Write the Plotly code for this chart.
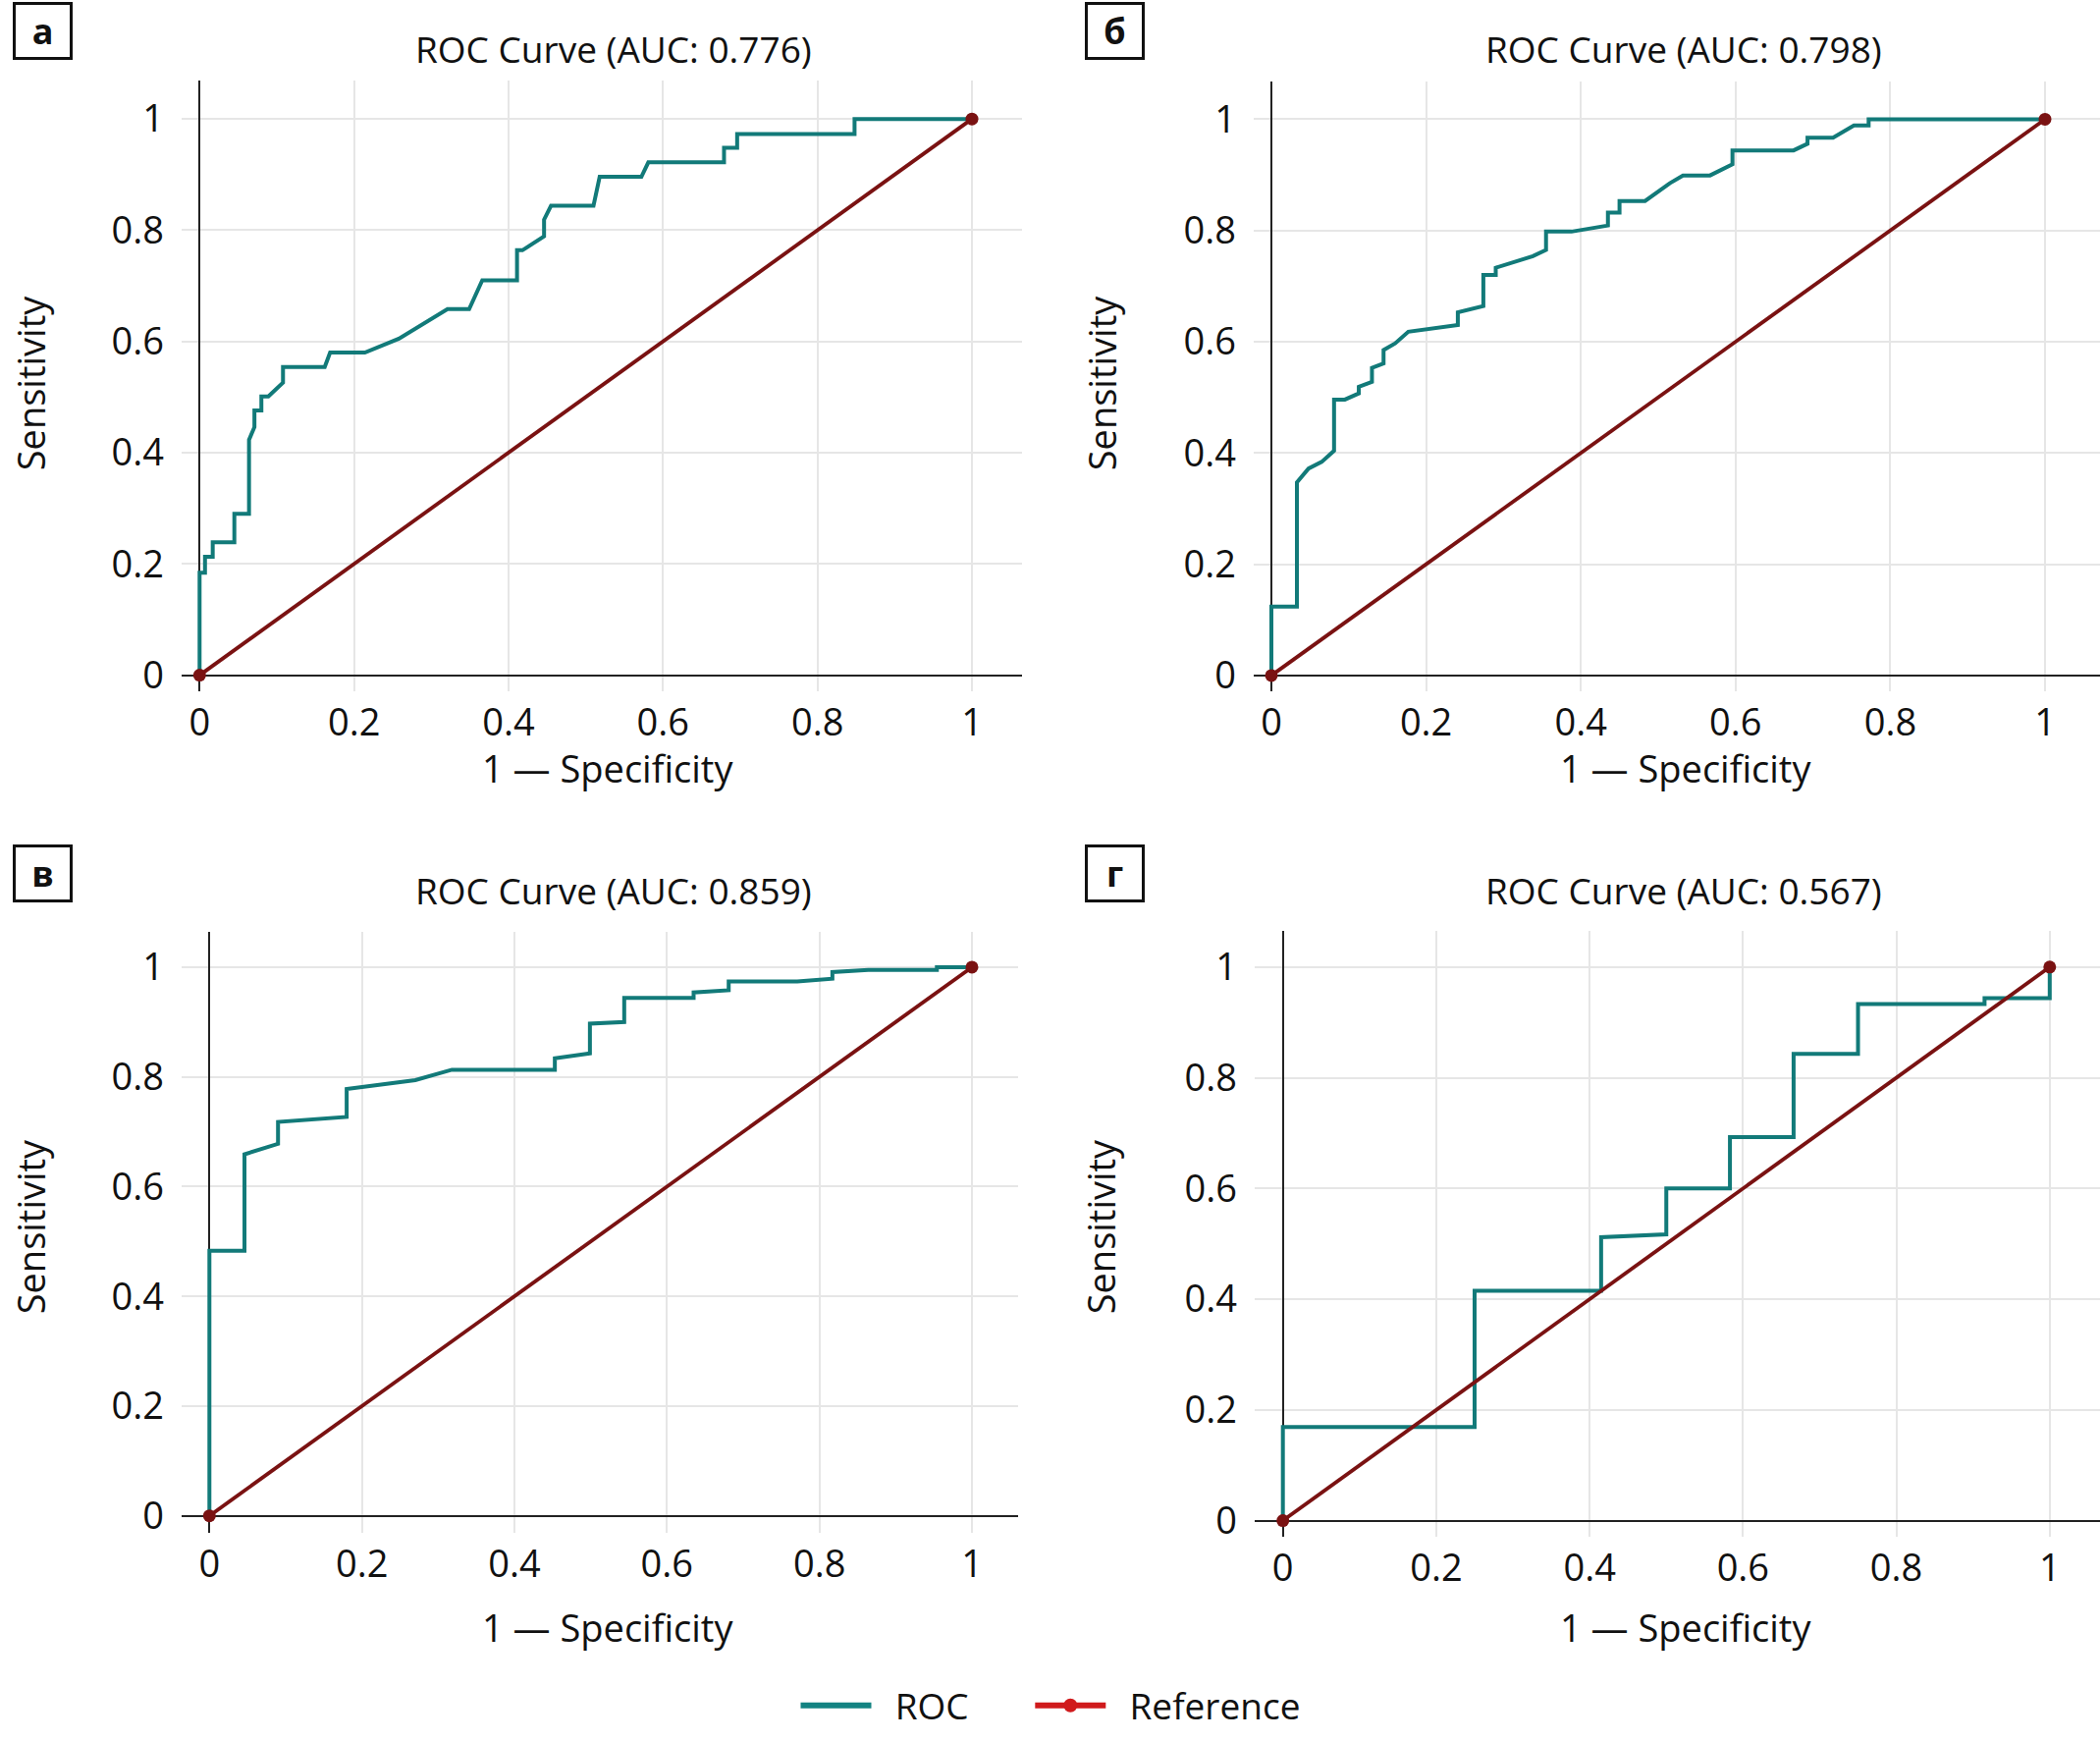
import plotly.graph_objects as go

W, H = 2139, 1773

# ROC curves (1 - specificity, sensitivity)
roc_x_a = [0, 0, 0.007, 0.007, 0.017, 0.017, 0.045, 0.045, 0.064, 0.064, 0.071, 0.071, 0.08, 0.08,
           0.089, 0.108, 0.108, 0.162, 0.169, 0.214, 0.258, 0.321, 0.349, 0.366, 0.411, 0.411, 0.418,
           0.446, 0.446, 0.455, 0.51, 0.518, 0.572, 0.581, 0.679, 0.679, 0.696, 0.696, 0.848, 0.848, 1.0]
roc_y_a = [0, 0.184, 0.184, 0.213, 0.213, 0.239, 0.239, 0.29, 0.29, 0.423, 0.446, 0.476, 0.476, 0.501,
           0.501, 0.526, 0.554, 0.554, 0.58, 0.58, 0.605, 0.658, 0.658, 0.71, 0.71, 0.764, 0.764,
           0.789, 0.819, 0.844, 0.844, 0.896, 0.896, 0.922, 0.922, 0.948, 0.948, 0.973, 0.973, 1.0, 1.0]

roc_x_b = [0, 0, 0.033, 0.033, 0.048, 0.065, 0.081, 0.081, 0.095, 0.113, 0.113, 0.13, 0.13, 0.145,
           0.145, 0.16, 0.177, 0.241, 0.241, 0.274, 0.274, 0.29, 0.29, 0.338, 0.355, 0.355, 0.388,
           0.435, 0.435, 0.45, 0.45, 0.483, 0.515, 0.532, 0.567, 0.596, 0.596, 0.675, 0.693, 0.693,
           0.726, 0.753, 0.772, 0.772, 1.0]
roc_y_b = [0, 0.124, 0.124, 0.347, 0.372, 0.384, 0.404, 0.496, 0.496, 0.507, 0.519, 0.528, 0.553, 0.561,
           0.585, 0.597, 0.618, 0.63, 0.653, 0.664, 0.72, 0.72, 0.733, 0.754, 0.765, 0.798, 0.798,
           0.809, 0.832, 0.832, 0.853, 0.853, 0.885, 0.899, 0.899, 0.919, 0.944, 0.944, 0.956, 0.967,
           0.967, 0.989, 0.989, 1.0, 1.0]

roc_x_c = [0, 0, 0.046, 0.046, 0.09, 0.09, 0.18, 0.18, 0.27, 0.318, 0.453, 0.453, 0.499, 0.499, 0.544,
           0.544, 0.635, 0.635, 0.681, 0.681, 0.771, 0.817, 0.817, 0.864, 0.954, 0.954, 1.0]
roc_y_c = [0, 0.483, 0.483, 0.659, 0.678, 0.718, 0.727, 0.778, 0.794, 0.813, 0.813, 0.834, 0.843, 0.897,
           0.9, 0.944, 0.944, 0.954, 0.958, 0.974, 0.974, 0.979, 0.991, 0.995, 0.995, 1.0, 1.0]

roc_x_d = [0, 0, 0.25, 0.25, 0.415, 0.415, 0.5, 0.5, 0.583, 0.583, 0.666, 0.666, 0.75, 0.75,
           0.915, 0.915, 1.0, 1.0]
roc_y_d = [0, 0.169, 0.169, 0.415, 0.415, 0.512, 0.517, 0.6, 0.6, 0.693, 0.693, 0.843, 0.843, 0.933,
           0.933, 0.944, 0.944, 1.0]

ref_x = [0, 1]
ref_y = [0, 1]

panel_labels = ["а", "б", "в", "г"]
auc_values = ["0.776", "0.798", "0.859", "0.567"]
tick_vals = [0, 0.2, 0.4, 0.6, 0.8, 1]
tick_text = ["0", "0.2", "0.4", "0.6", "0.8", "1"]

curves = [(roc_x_a, roc_y_a), (roc_x_b, roc_y_b), (roc_x_c, roc_y_c), (roc_x_d, roc_y_d)]

# pixel geometry of each panel: x=0, x=1, left, right, y=1, y=0, top, bottom
geom = [
    (203.3, 990.0, 185, 1041, 121.7, 690.7, 82.7, 707),
    (1295.0, 2083.0, 1277, 2139, 122.0, 691.0, 83.0, 707),
    (213.3, 990.0, 185, 1037, 989.4, 1550.7, 953.0, 1568),
    (1306.7, 2087.8, 1278, 2139, 989.3, 1555.6, 952.3, 1572),
]
title_pos = [(625, 50), (1715, 50), (625, 911), (1715, 911)]
xtitle_pos = [(619, 786), (1717, 786), (619, 1665), (1717, 1665)]
ytitle_pos = [(31, 392), (1122, 392), (31, 1255), (1121, 1255)]
label_pos = [(43.5, 31.5), (1135, 31.5), (43.5, 894), (1135, 893.5)]

FONT = "Open Sans"
TEAL = "#127a79"
MAROON = "#7a1212"
NB = "\u00a0"

fig = go.Figure()
annotations = []

for i, ((cx, cy), g) in enumerate(zip(curves, geom)):
    x0, x1, left, right, y1, y0, top, bottom = g
    sfx = "" if i == 0 else str(i + 1)
    xr = [(left - x0) / (x1 - x0), (right - x0) / (x1 - x0)]
    yr = [(y0 - bottom) / (y0 - y1), (y0 - top) / (y0 - y1)]
    axis_common = dict(
        showgrid=True, gridcolor="#e6e6e6", gridwidth=2,
        zeroline=True, zerolinecolor="#222222", zerolinewidth=2,
        showline=False, ticks="", tickvals=tick_vals, ticktext=tick_text,
        tickfont=dict(family=FONT, size=38, color="#111111"), fixedrange=True,
    )
    fig.layout["xaxis" + sfx] = dict(axis_common, range=xr, domain=[left / W, min(right / W, 1)],
                                     anchor="y" + sfx, ticklabelstandoff=6)
    fig.layout["yaxis" + sfx] = dict(axis_common, range=yr, domain=[1 - bottom / H, 1 - top / H],
                                     anchor="x" + sfx, ticklabelstandoff=17)

    fig.add_trace(go.Scatter(x=cx, y=cy, mode="lines", line=dict(color=TEAL, width=4),
                             xaxis="x" + sfx, yaxis="y" + sfx, showlegend=False))
    fig.add_trace(go.Scatter(x=ref_x, y=ref_y, mode="lines+markers",
                             line=dict(color=MAROON, width=3.8), marker=dict(color=MAROON, size=13),
                             cliponaxis=False, xaxis="x" + sfx, yaxis="y" + sfx, showlegend=False))

    tx, ty = title_pos[i]
    annotations.append(dict(text=f"ROC Curve (AUC: {auc_values[i]})", x=tx / W, y=1 - ty / H,
                            xref="paper", yref="paper", showarrow=False, xanchor="center",
                            yanchor="middle", font=dict(family=FONT, size=37, color="#111111")))
    tx, ty = xtitle_pos[i]
    annotations.append(dict(text="1 — Specificity", x=tx / W, y=1 - ty / H,
                            xref="paper", yref="paper", showarrow=False, xanchor="center",
                            yanchor="middle", font=dict(family=FONT, size=38, color="#111111")))
    tx, ty = ytitle_pos[i]
    annotations.append(dict(text="Sensitivity", x=tx / W, y=1 - ty / H, textangle=-90,
                            xref="paper", yref="paper", showarrow=False, xanchor="center",
                            yanchor="middle", font=dict(family=FONT, size=38, color="#111111")))
    tx, ty = label_pos[i]
    annotations.append(dict(text=f"<b>{panel_labels[i]}</b>", x=tx / W, y=1 - ty / H,
                            xref="paper", yref="paper", showarrow=False, xanchor="center",
                            yanchor="middle", width=55, height=53, borderpad=0,
                            bordercolor="#111111", borderwidth=3,
                            font=dict(family=FONT, size=36, color="#111111")))

# legend-only entries
fig.add_trace(go.Scatter(x=[None], y=[None], mode="lines", name=NB + NB + "ROC" + NB * 6,
                         line=dict(color="#138382", width=6)))
fig.add_trace(go.Scatter(x=[None], y=[None], mode="lines+markers", name=NB + NB + "Reference",
                         line=dict(color="#d01a1c", width=6), marker=dict(color="#d01a1c", size=14)))

fig.update_layout(
    width=W, height=H,
    margin=dict(l=0, r=0, t=0, b=0),
    paper_bgcolor="white", plot_bgcolor="white",
    annotations=annotations,
    showlegend=True,
    legend=dict(orientation="h", x=1070 / W, xanchor="center", y=1 - 1745 / H, yanchor="middle",
                font=dict(family=FONT, size=37, color="#111111"), itemwidth=72),
)

# drop the default page margin so the figure sits at the window origin
fig.write_html("out.html", config={"displayModeBar": False},
               post_script="document.body.style.margin='0';")
